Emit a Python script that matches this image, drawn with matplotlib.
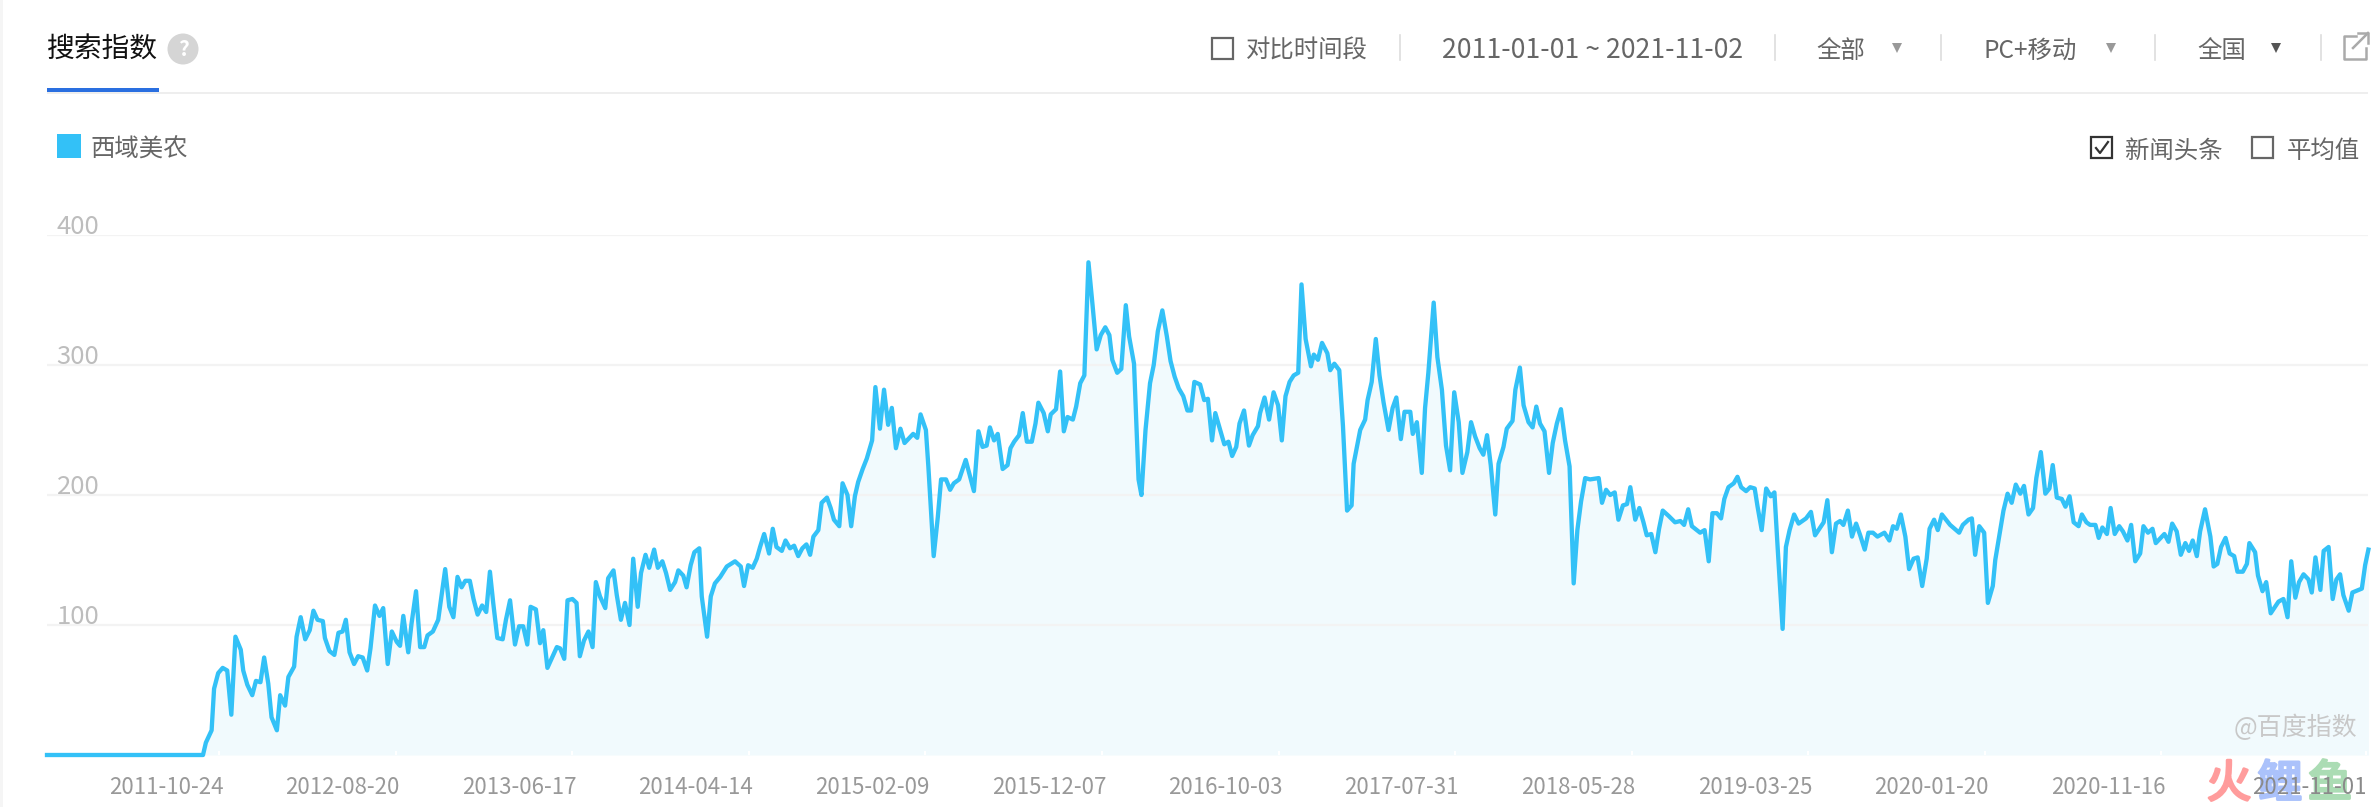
import datetime as dt
import numpy as np
import matplotlib
matplotlib.use('Agg')
import matplotlib.pyplot as plt
import matplotlib.dates as mdates
import matplotlib.patheffects as pe
from matplotlib.patches import Circle, Rectangle
from matplotlib.transforms import ScaledTranslation

plt.rcParams['font.family'] = ['Noto Sans CJK SC', 'DejaVu Sans']

# weeks counted from the first sample
START = dt.date(2011, 1, 3)

weeks_2011 = [0, 38, 38.7, 40.1, 40.7, 41.7, 42.8, 43.9, 44.9, 45.9, 47.2, 47.8, 48.8, 50, 50.9, 52, 52.9, 53.9, 54.7, 56,
              56.8, 58, 58.8, 60.2, 60.8, 61.8, 62.9, 64, 64.9, 65.9, 67.2, 67.7, 68.8, 70, 71, 72, 72.8, 73.7, 74.8, 75.8,
              76.9, 78, 78.8, 79.9, 81, 81.9, 83, 84, 85.2, 86, 86.8, 88, 88.8, 89.9, 90.9, 91.9, 92.7, 94, 95.3, 97,
              98, 99, 100, 101, 101.9, 103, 103.9, 104.9, 106, 107, 107.9, 108.7, 109.7, 111, 111.8, 112.8, 114, 115, 116, 117,
              117.8, 119.1, 120.1, 120.9, 121.9, 123.2, 124.2, 125, 126, 126.8, 128, 129]
values_2011 = [0, 0, 9.5, 19, 51, 63, 67, 65, 31, 91, 81, 65, 54, 46, 57, 56, 75, 55, 29, 19,
               46, 38, 60, 68, 91, 106, 89, 96, 111, 104, 103, 90, 80, 77, 94, 95, 104, 79, 70, 76,
               75, 65, 82, 115, 107, 113, 70, 95, 87, 84, 107, 79, 101, 126, 83, 83, 92, 95, 104, 143,
               114, 106, 137, 129, 134, 134, 120, 108, 115, 110, 141, 117, 90, 89, 104, 119, 85, 99, 99, 85,
               114, 112, 86, 96, 67, 76, 83, 82, 74, 119, 120, 117]

weeks_2013 = [129.8, 130.8, 131.9, 132.9, 133.7, 134.7, 136, 136.7, 138, 138.8, 139.8, 140.8, 141.9, 142.8, 143.9, 144.7, 145.8, 146.7, 147.9, 148.8,
              149.9, 150.8, 151.8, 153, 153.8, 155, 155.8, 156.8, 157.7, 158.9, 159.5, 160.8, 161.7, 162.7, 164, 165.6, 167.6, 169, 169.8, 170.8,
              171.9, 172.9, 173.7, 174.7, 175.9, 176.8, 177.7, 179, 179.9, 181, 182, 183, 184, 185, 185.9, 186.7, 187.9, 188.7, 190, 190.9,
              191.7, 193, 193.8, 195, 195.9, 196.8, 197.6, 198.7]
values_2013 = [76, 88, 95, 83, 133, 122, 113, 136, 142, 123, 104, 117, 100, 151, 114, 140, 154, 144, 158, 144,
               149, 140, 127, 133, 142, 138, 129, 146, 156, 159, 122, 91, 122, 132, 137, 145, 149, 145, 130, 146,
               144, 151, 160, 170, 155, 174, 160, 157, 165, 159, 161, 153, 159, 162, 154, 168, 173, 194, 198, 190,
               181, 176, 209, 200, 176, 199, 210, 220]

weeks_2015 = [199.7, 201, 201.8, 202.9, 203.9, 204.9, 205.8, 206.8, 207.9, 208.9, 211, 212, 212.8, 214.1, 214.7, 216, 217, 217.8, 219, 220,
              220.9, 222.2, 223.8, 224.8, 225.8, 226.9, 227.9, 228.9, 229.7, 230.7, 231.6, 232.8, 234, 234.7, 235.6, 236.8, 237.7, 238.7, 239.9, 240.8,
              241.5, 242.8, 243.8, 244.5, 245.8, 246.8, 247.7, 248.6, 249.9, 250.7, 251.7, 252.7, 253.7, 254.7, 255.7, 256.7, 257.8, 258.8, 259.5, 260.7,
              261.7, 262.8, 263.6, 264.8, 265.9, 266.6, 267.6, 268.7, 269.6, 270.6, 271.7, 272.8, 273.7, 274.7, 275.7, 276.8, 277.8, 278.7, 279.5, 280.9,
              281.9, 282.8, 283.8, 284.6, 285.8, 286.8, 287.8, 288.7, 289.7, 290.5, 291.6, 292.8, 293.7, 295, 295.5, 296.6, 297.7, 298.8, 299.9, 300.8,
              301.7, 302.7, 303.7, 304.8, 305.6, 306.6, 307.9, 308.6, 309.6, 310.6, 311.9, 312.6, 313.6, 314.8, 315.7, 316.7, 317.8, 318.3]
values_2015 = [228, 242, 283, 251, 281, 254, 267, 236, 251, 240, 247, 244, 262, 250, 222, 153, 183, 212, 212, 204,
               209, 212, 227, 215, 203, 249, 237, 238, 252, 242, 247, 220, 223, 236, 241, 246, 263, 241, 241, 255,
               271, 263, 249, 262, 266, 295, 249, 260, 258, 268, 286, 292, 379, 346, 312, 323, 329, 323, 304, 294,
               297, 346, 322, 301, 212, 200, 250, 286, 300, 326, 342, 322, 303, 291, 282, 276, 265, 265, 287, 285,
               273, 274, 242, 263, 250, 239, 241, 230, 237, 255, 265, 238, 246, 253, 263, 275, 258, 279, 269, 242,
               276, 287, 292, 294, 362, 320, 299, 308, 304, 317, 309, 296, 301, 296, 253, 188, 192, 224]

weeks_2017 = [319.9, 321.1, 321.7, 322.7, 323.7, 324.6, 325.6, 326.8, 327.8, 328.7, 329.8, 330.7, 332.1, 332.7, 333.7, 334.9, 335.7, 336.5, 337.8, 338.7,
              339.8, 340.8, 341.8, 342.8, 343.9, 344.8, 346, 346.9, 347.9, 349, 349.9, 350.8, 351.7, 352.8, 353.6, 354.8, 355.6, 357, 357.7, 358.8,
              359.7, 360.9, 361.9, 362.8, 363.7, 364.8, 365.9, 366.8, 367.8, 368.8, 369.8, 370.9, 371.9, 372.8, 373.7, 374.7, 375.9, 378, 378.8, 379.8,
              380.8, 381.9, 382.8, 383.9, 384.9, 385.7, 386.9, 387.9, 388.9, 389.7, 390.8, 391.8, 392.7, 393.6, 395, 396.6, 397.9, 398.8, 399.8, 400.7,
              402.7, 403.8, 404.8, 405.7, 406.8, 407.8, 408.6, 409.6, 410.9, 411.8, 412.7, 413.9, 414.9, 416]
values_2017 = [250, 258, 273, 287, 320, 292, 271, 250, 267, 275, 243, 264, 264, 247, 256, 217, 267, 294, 348, 306,
               281, 238, 219, 279, 256, 217, 233, 256, 245, 236, 231, 246, 223, 185, 224, 237, 251, 257, 281, 298,
               269, 256, 252, 268, 255, 249, 217, 240, 255, 266, 242, 222, 132, 173, 195, 213, 212, 213, 194, 204,
               200, 202, 181, 192, 193, 206, 181, 190, 179, 169, 170, 156, 174, 188, 184, 179, 180, 177, 189, 176,
               171, 173, 149, 186, 186, 182, 197, 206, 209, 214, 206, 203, 206, 205]

weeks_2019 = [416.7, 417.7, 418.8, 419.9, 420.8, 421.6, 422.8, 423.6, 424.5, 425.6, 426.7, 428.5, 429.7, 430.7, 432.8, 433.7, 434.8, 435.8, 436.8, 437.6,
              438.7, 439.7, 440.7, 441.7, 442.8, 443.7, 444.8, 445.9, 447.6, 448.8, 449.7, 450.6, 451.6, 452.7, 453.6, 454.7, 455.7, 456.8, 457.9, 458.6,
              459.7, 460.6, 461.6, 463.6, 465.8, 466.7, 468.1, 468.9, 469.7, 470.7, 471.9, 472.8, 474, 474.6]
values_2019 = [191, 173, 205, 199, 202, 159, 97, 160, 173, 185, 178, 182, 187, 169, 179, 196, 156, 178, 180, 177,
               188, 168, 178, 169, 158, 171, 171, 168, 171, 165, 176, 174, 185, 168, 143, 151, 152, 130, 151, 174,
               181, 173, 185, 177, 171, 177, 181, 182, 154, 176, 171, 117, 130, 150]

weeks_2020 = [475.8, 476.6, 477.6, 478.6, 479.6, 480.7, 481.6, 482.7, 483.8, 484.6, 485.7, 486.8, 487.8, 488.6, 489.6, 490.8, 491.7, 492.7, 493.7, 494.9,
              495.7, 496.8, 497.7, 499, 499.8, 500.7, 501.8, 502.7, 503.7, 504.8, 505.7, 506.8, 507.7, 508.7, 509.9, 510.7, 511.8, 512.9, 513.7, 515.8,
              516.8, 517.7, 518.8, 519.8, 520.9, 521.8, 522.7, 523.7, 524.5, 525.7, 527, 527.8, 528.7, 529.6, 530.7, 531.7, 532.8, 533.6, 534.9, 535.9,
              536.5, 537.9, 538.6, 539.7, 540.6, 541.7, 543.6, 544.8, 545.8, 546.7, 547.7, 548.6, 549.7, 550.9, 551.7, 552.6, 553.8, 554.6, 555.8, 556.8,
              557.7, 558.6, 559.4, 560.7, 561.6, 563.9, 564.7, 565.5]
values_2020 = [173, 188, 201, 194, 208, 201, 207, 185, 190, 213, 233, 201, 205, 223, 198, 197, 191, 199, 179, 176,
               185, 179, 177, 177, 167, 175, 170, 190, 170, 176, 172, 165, 177, 149, 155, 176, 171, 174, 163, 170,
               164, 178, 172, 154, 163, 157, 165, 153, 172, 189, 168, 145, 147, 160, 167, 155, 153, 141, 141, 147,
               163, 156, 138, 126, 133, 109, 118, 120, 106, 149, 121, 133, 139, 135, 125, 152, 127, 157, 160, 120,
               135, 139, 123, 111, 125, 128, 146, 158]

tick_dates = ['2011-10-24', '2012-08-20', '2013-06-17', '2014-04-14', '2015-02-09', '2015-12-07',
              '2016-10-03', '2017-07-31', '2018-05-28', '2019-03-25', '2020-01-20', '2020-11-16', '2021-11-01']
y_ticks = [100, 200, 300, 400]

W, H = 2376, 807
LINE = '#33c1f7'
FILL = '#f1fafd'
GRID = '#f3f3f3'

weeks = np.concatenate([weeks_2011, weeks_2013, weeks_2015, weeks_2017, weeks_2019, weeks_2020])
values = np.concatenate([values_2011, values_2013, values_2015, values_2017, values_2019, values_2020])

start_num = mdates.date2num(START)
x = start_num + weeks * 7

fig = plt.figure(figsize=(W / 100, H / 100), dpi=100, facecolor='white')

# chart itself
ax = fig.add_axes([47 / W, (H - 755) / H, 2321 / W, 520 / H])
ax.set_facecolor('none')
ax.set_xlim(start_num, start_num + 565.4 * 7)
ax.set_ylim(0, 400)
for s in ax.spines.values():
    s.set_visible(False)
ax.fill_between(x, values, 0, color=FILL, lw=0, zorder=1)
for v in y_ticks:
    ax.axhline(v, color=GRID, lw=1.6, zorder=2)
ax.plot(x, values, color=LINE, lw=3.1, solid_joinstyle='round', zorder=3, clip_on=False)

ax.set_yticks([])
tick_pos = [mdates.date2num(dt.date.fromisoformat(d)) for d in tick_dates]
ax.set_xticks(tick_pos)
ax.set_xticklabels(tick_dates, ha='right', fontsize=16, color='#999999')
ax.tick_params(axis='x', direction='in', length=3, width=1.5, color='white', pad=15)
# the site sets its date labels a few pixels past the tick
shift = ScaledTranslation(4 / 100, 0, fig.dpi_scale_trans)
for t in ax.get_xticklabels()[:-1]:
    t.set_transform(t.get_transform() + shift)
ax.get_xticklabels()[-1].set_color('#8a8a8a')
ax.get_xticklabels()[-1].set_zorder(10)

for v in y_ticks:
    ax.annotate(str(v), xy=(0, v), xycoords=('axes fraction', 'data'), xytext=(7, 6), textcoords='offset points',
                ha='left', va='center', fontsize=18.5, color='#bdbdbd')

# page furniture around the chart, placed in pixels
ui = fig.add_axes([0, 0, 1, 1], zorder=-1)
ui.set_xlim(0, W)
ui.set_ylim(H, 0)
ui.axis('off')
top = fig.add_axes([0, 0, 1, 1], zorder=5)
top.set_xlim(0, W)
top.set_ylim(H, 0)
top.axis('off')
top.patch.set_alpha(0)


def label(px, py, s, size=17.6, color='#666666', ha='left', **kw):
    top.text(px, py + 3, s, fontsize=size, color=color, ha=ha, va='center', **kw)


def box(x0, y0, size, color='#666666'):
    top.add_patch(Rectangle((x0, y0), size, size, fill=False, ec=color, lw=1.6))


def logo(px, s, color):
    ui.text(px, 784, s, fontsize=32, color=color, ha='center', va='center',
            path_effects=[pe.withStroke(linewidth=2, foreground=color)])


ui.add_patch(Rectangle((0, 0), 3, H, color='#f5f5f5', lw=0))
ui.add_patch(Rectangle((47, 92), 2321, 2, color='#eeeeee', lw=0))
top.add_patch(Rectangle((47, 88), 112, 4, color='#2a6fe0', lw=0))

label(47, 47, '搜索指数', size=20, color='#111111')
top.add_patch(Circle((183, 49), 15.5, color='#d5d5d5', lw=0))
top.text(183, 49, '?', fontsize=15, color='white', ha='center', va='center', fontweight='bold')

top.add_patch(Rectangle((57, 134), 24, 24, color=LINE, lw=0))
label(91, 147, '西域美农')

box(1212, 38, 21)
label(1246, 48, '对比时间段')
label(1442, 48, '2011-01-01 ~ 2021-11-02', size=19.2)
label(1816, 48, '全部')
label(1983, 48, 'PC+移动')
label(2197, 48, '全国')
for sep_x in [1400, 1775, 1941, 2155, 2321]:
    top.plot([sep_x, sep_x], [35, 60], color='#dddddd', lw=1.2)
for tri_x, tri_c in [(1897, '#999999'), (2111, '#999999'), (2276, '#555555')]:
    top.plot([tri_x], [48], marker='v', ms=7, color=tri_c, mew=0)

# open-in-new icon
top.plot([2356, 2344, 2344, 2366, 2366], [36, 36, 59, 59, 48], color='#aaaaaa', lw=1.8)
top.plot([2353, 2368], [48, 33], color='#aaaaaa', lw=1.8)
top.plot([2358, 2368, 2368], [33, 33, 43], color='#aaaaaa', lw=1.8)

box(2091, 137, 21, color='#333333')
top.plot([2096, 2100, 2108], [148, 153, 142], color='#333333', lw=1.6)
label(2125, 148, '新闻头条')
box(2252, 137, 21)
label(2287, 148, '平均值')

label(2234, 725, '@百度指数', size=18, color='#c8c8c8')
logo(2229, '火', '#ff9c9c')
logo(2280, '鲤', '#abc2fb')
logo(2330, '鱼', '#abdcb4')

fig.savefig('out.png', dpi=100, facecolor='white')
